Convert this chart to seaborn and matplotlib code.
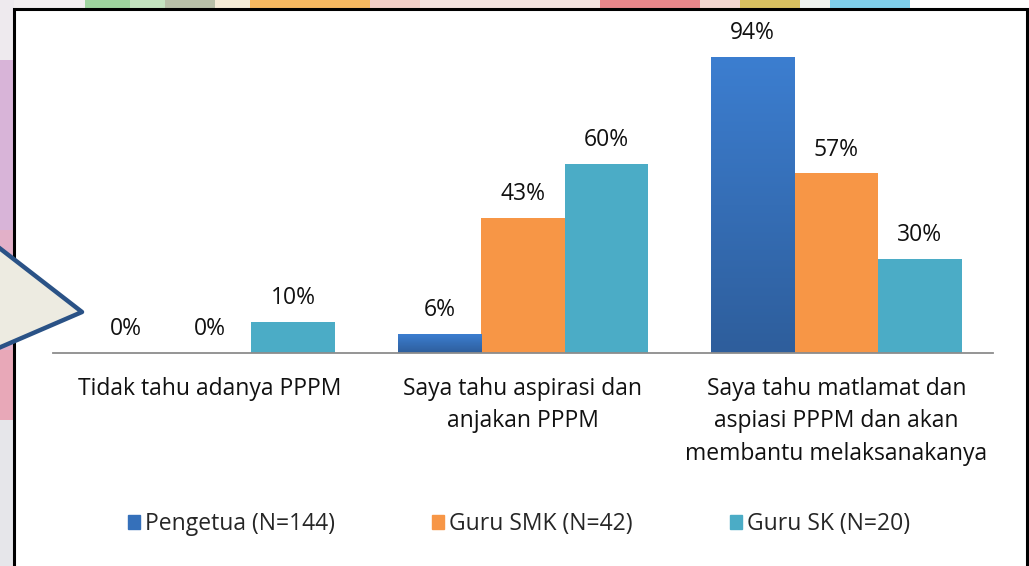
import numpy as np
import pandas as pd
import seaborn as sns
import matplotlib.pyplot as plt
from matplotlib.patches import Rectangle, Polygon
from matplotlib.colors import LinearSegmentedColormap

# data ==================================================================
categories = ['Tidak tahu adanya PPPM',
              'Saya tahu aspirasi dan\nanjakan PPPM',
              'Saya tahu matlamat dan\naspiasi PPPM dan akan\nmembantu melaksanakanya']
groups = ['Pengetua (N=144)', 'Guru SMK (N=42)', 'Guru SK (N=20)']
pengetua = [0.00, 0.06, 0.94]
guru_smk = [0.00, 0.43, 0.57]
guru_sk = [0.10, 0.60, 0.30]
colors = ['#3A7BCB', '#F79646', '#4BACC6']

df = pd.DataFrame({
    'kategori': categories * 3,
    'kumpulan': [g for g in groups for _ in categories],
    'nilai': pengetua + guru_smk + guru_sk,
})

sns.set_theme(style='white')
plt.rcParams['font.family'] = ['Open Sans', 'DejaVu Sans']
FS = 16.5

fig = plt.figure(figsize=(10.29, 5.66), dpi=100)

# background decoration (slide edges + white panel) =====================
bg = fig.add_axes([0, 0, 1, 1])
bg.set_xlim(0, 1029)
bg.set_ylim(566, 0)
bg.axis('off')
top_strip = [(0, 85, '#F2EEF0'), (85, 130, '#9FD49F'), (130, 165, '#C4E4C0'),
             (165, 215, '#B8C0A8'), (215, 250, '#F4EBD6'), (250, 370, '#F6B860'),
             (370, 420, '#F3D0C8'), (420, 600, '#F4E4E0'), (600, 700, '#E8868A'),
             (700, 740, '#F2D6D0'), (740, 800, '#D8C060'), (800, 830, '#EEF2EE'),
             (830, 910, '#7FCFEA'), (910, 1029, '#FFFFFF')]
for x0, x1, c in top_strip:
    bg.add_patch(Rectangle((x0, 0), x1 - x0, 9, color=c, lw=0))
left_strip = [(0, 60, '#EEEAEE'), (60, 230, '#D8B4D8'), (230, 350, '#E2B0C8'),
              (350, 420, '#E8A8B8'), (420, 566, '#E6E6EA')]
for y0, y1, c in left_strip:
    bg.add_patch(Rectangle((0, y0), 14, y1 - y0, color=c, lw=0))
bg.add_patch(Rectangle((13.5, 8.5), 1013, 570, facecolor='white',
                       edgecolor='black', lw=2.2))

# chart ==================================================================
ax = fig.add_axes([53 / 1029, 213 / 566, 940 / 1029, 315 / 566])
ax.patch.set_alpha(0)
sns.barplot(data=df, x='kategori', y='nilai', hue='kumpulan', order=categories,
            hue_order=groups, palette=colors, saturation=1, width=0.8,
            edgecolor='none', linewidth=0, ax=ax)

ax.set_xlabel('')
ax.set_ylabel('')
ax.set_yticks([])
for s in ['top', 'left', 'right']:
    ax.spines[s].set_visible(False)
ax.spines['bottom'].set_color('#8C8C8C')
ax.spines['bottom'].set_linewidth(1.3)
ax.tick_params(axis='x', length=0, pad=17.5, labelsize=FS, labelcolor='#111111')
for lab in ax.get_xticklabels():
    lab.set_linespacing(1.45)
    lab.set_verticalalignment('top')

# gradient on blue bars
grad = np.linspace(0, 1, 100).reshape(-1, 1)
blue_cmap = LinearSegmentedColormap.from_list('b', ['#2E5E9C', '#3C7ED0'])
for bar in ax.containers[0]:
    x, y = bar.get_x(), bar.get_y()
    w, h = bar.get_width(), bar.get_height()
    if h <= 0:
        continue
    im = ax.imshow(grad, cmap=blue_cmap, aspect='auto', origin='lower',
                   extent=[x, x + w, y, y + h], zorder=bar.get_zorder() + 0.1)
    im.set_clip_path(bar)
ax.set_xlim(-0.5, 2.5)
ax.set_ylim(0, 1)

for cont in ax.containers:
    ax.bar_label(cont, labels=[f'{v * 100:.0f}%' for v in cont.datavalues],
                 padding=8.5, fontsize=FS, color='#111111')

ax.get_legend().remove()
handles = [Rectangle((0, 0), 1, 1, color=c) for c in ['#3570BA', colors[1], colors[2]]]
fig.legend(handles, groups, loc='center', bbox_to_anchor=(519 / 1029, 42 / 566),
           ncol=3, frameon=False, fontsize=FS, handlelength=0.52, handleheight=0.52,
           handletextpad=0.22, columnspacing=4.25)

# speech bubble pointer
bub = fig.add_axes([0, 0, 1, 1], zorder=5)
bub.set_xlim(0, 1029)
bub.set_ylim(566, 0)
bub.axis('off')
bub.add_patch(Polygon([(-20, 233), (82, 312), (-20, 356)], closed=True,
                      facecolor='#EDEBE1', edgecolor='#2A5286', lw=3.2,
                      joinstyle='round'))

plt.savefig('out.png', dpi=100)
